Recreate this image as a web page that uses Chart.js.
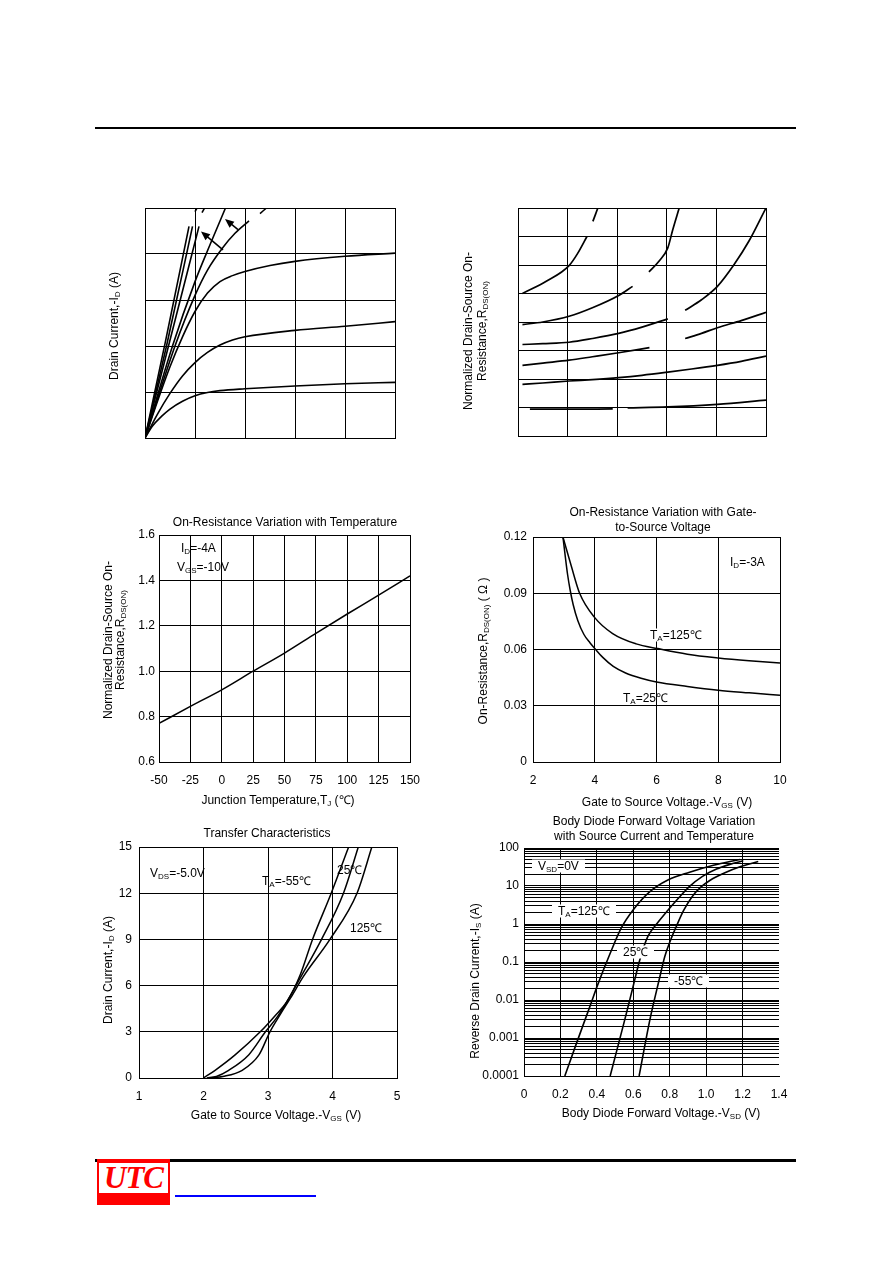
<!DOCTYPE html>
<html><head><meta charset="utf-8"><title>MOSFET typical characteristics</title>
<script src="https://cdn.jsdelivr.net/npm/chart.js@4.4.1/dist/chart.umd.min.js"></script>
<style>
html,body{margin:0;padding:0;background:#fff;}
body{position:relative;width:892px;height:1263px;overflow:hidden;font-family:"Liberation Sans",Arial,Helvetica,sans-serif;font-size:12px;color:#000;}
canvas{position:absolute;}
.t{position:absolute;white-space:nowrap;line-height:14px;font-size:12px;color:#000;}
.c{transform:translate(-50%,-50%);text-align:center;}
.l{transform:translateY(-50%);}
.r{transform:translate(-50%,-50%) rotate(-90deg);text-align:center;}
.t sub{font-size:8px;vertical-align:-2px;line-height:0;}
.wb{background:#fff;padding:0 6px;line-height:13px;}
.rule{position:absolute;background:#000;}
</style></head><body>
<div class="rule" style="left:95px;top:127px;width:701px;height:2px"></div>
<div class="rule" style="left:95px;top:1159px;width:701px;height:3px"></div>
<div style="position:absolute;left:97px;top:1159px;width:73px;height:46px;background:#f00"></div>
<div style="position:absolute;left:99px;top:1163px;width:69px;height:30px;background:#fff"></div>
<div style="position:absolute;left:99px;top:1161px;width:69px;height:34px;font:italic bold 31px 'Liberation Serif',serif;color:#f00;line-height:34px;text-align:center;letter-spacing:-1px">UTC</div>
<div style="position:absolute;left:175px;top:1195px;width:141px;height:2px;background:#00f"></div>

<!-- chart 1 -->
<div class="t r" style="left:114px;top:326px">Drain Current,-I<sub>D</sub> (A)</div>
<!-- chart 2 -->
<div class="t r" style="left:475px;top:331px;line-height:14px">Normalized Drain-Source On-<br>Resistance,R<sub>DS(ON)</sub></div>
<!-- chart 3 -->
<div class="t c" style="left:285px;top:522px">On-Resistance Variation with Temperature</div>
<div class="t r" style="left:114px;top:640px;line-height:12px">Normalized Drain-Source On-<br>Resistance,R<sub>DS(ON)</sub></div>
<div class="t c" style="left:278px;top:800px">Junction Temperature,T<sub>J</sub> (℃)</div>
<div class="t l" style="left:181px;top:548px">I<sub>D</sub>=-4A</div>
<div class="t l" style="left:177px;top:567px">V<sub>GS</sub>=-10V</div>
<!-- chart 4 -->
<div class="t c" style="left:663px;top:520px;line-height:15px">On-Resistance Variation with Gate-<br>to-Source Voltage</div>
<div class="t r" style="left:483px;top:651px">On-Resistance,R<sub>DS(ON)</sub> ( Ω )</div>
<div class="t c" style="left:667px;top:802px">Gate to Source Voltage.-V<sub>GS</sub> (V)</div>
<div class="t l" style="left:730px;top:562px">I<sub>D</sub>=-3A</div>
<div class="t l wb" style="left:644px;top:635px">T<sub>A</sub>=125℃</div>
<div class="t l" style="left:623px;top:698px">T<sub>A</sub>=25℃</div>
<!-- chart 5 -->
<div class="t c" style="left:267px;top:833px">Transfer Characteristics</div>
<div class="t r" style="left:108px;top:970px">Drain Current,-I<sub>D</sub> (A)</div>
<div class="t c" style="left:276px;top:1115px">Gate to Source Voltage.-V<sub>GS</sub> (V)</div>
<div class="t l" style="left:150px;top:873px">V<sub>DS</sub>=-5.0V</div>
<div class="t l" style="left:262px;top:881px">T<sub>A</sub>=-55℃</div>
<div class="t l" style="left:337px;top:870px">25℃</div>
<div class="t l" style="left:350px;top:928px">125℃</div>
<!-- chart 6 -->
<div class="t c" style="left:654px;top:829px;line-height:15px">Body Diode Forward Voltage Variation<br>with Source Current and Temperature</div>
<div class="t r" style="left:475px;top:981px">Reverse Drain Current,-I<sub>S</sub> (A)</div>
<div class="t c" style="left:661px;top:1113px">Body Diode Forward Voltage.-V<sub>SD</sub> (V)</div>

<script>
// ---------------- DATA ----------------
// Chart 1: output characteristics (no tick labels), null splits a curve
const out1_vds = [0,0.15,0.33,0.5,0.75,1,1.25,1.5,2,3,4,5];
const out1_id  = [0,0.26,0.47,0.63,0.8,0.92,0.99,1.03,1.07,1.13,1.18,1.21];
const out2_vds = [0,0.25,0.5,0.75,1,1.25,1.5,1.75,2,3,4,5];
const out2_id  = [0,0.52,0.97,1.35,1.64,1.86,2.02,2.13,2.2,2.34,2.43,2.53];
const out3_vds = [0,0.25,0.5,0.75,1,1.25,1.5,1.75,2,2.5,3,4,5];
const out3_id  = [0,0.8,1.55,2.2,2.75,3.15,3.4,3.53,3.62,3.75,3.84,3.95,4.02];
const out4_vds = [0,0.6,1,1.25,1.55,1.8,2.08,null,2.3,2.43];
const out4_id  = [0,2.0,3.1,3.65,4.13,4.45,4.72,null,4.88,5];
const out5_vds = [0,0.55,1,1.3,1.61];
const out5_id  = [0,2.0,3.4,4.2,5];
const out6_vds = [0,0.47,1.08,null,1.14,1.19];
const out6_id  = [0,2.0,4.6,null,4.9,5];
const out7_vds = [0,0.43,0.95,null,1.0,1.04];
const out7_id  = [0,2.0,4.6,null,4.92,5];
const out8_vds = [0,0.4,0.88];
const out8_id  = [0,2.05,4.6];
const out_arrowTail = [[1.56,4.09],[1.86,4.53]];
const out_arrowHead = [[1.12,4.49],[1.60,4.76]];
const out_ticksX = [0,1,2,3,4,5];
const out_ticksY = [0,1,2,3,4,5];

// Chart 2: normalized RDS(on) curves (no tick labels)
const nr1_x = [0.09,0.57,1.03,1.2,1.39,null,1.51,1.61];
const nr1_y = [5.0,5.43,5.98,6.4,7.0,null,7.53,8];
const nr2_x = [0.09,0.5,1.03,1.5,2.03,2.31,null,2.64,2.85,3.02,3.12,3.25];
const nr2_y = [3.91,4.0,4.2,4.5,4.93,5.25,null,5.76,6.15,6.6,7.24,8];
const nr3_x = [0.09,0.5,1.03,1.5,2.03,2.5,3.02,null,3.37,3.7,4.02,4.35,4.66,5];
const nr3_y = [3.21,3.24,3.29,3.42,3.6,3.82,4.11,null,4.41,4.78,5.25,6.0,6.85,8];
const nr4_x = [0.09,0.5,1.03,1.5,2.03,2.65,null,3.37,3.7,4.02,4.5,5];
const nr4_y = [2.48,2.56,2.66,2.78,2.92,3.1,null,3.42,3.6,3.8,4.05,4.34];
const nr5_x = [0.09,0.5,1.03,1.5,2.03,2.5,3.02,3.5,4.02,4.5,5];
const nr5_y = [1.81,1.86,1.93,1.98,2.05,2.13,2.24,2.35,2.48,2.62,2.8];
const nr6_x = [0.24,1,1.91,null,2.21,3.02,4.02,5];
const nr6_y = [0.94,0.94,0.95,null,0.99,1.02,1.11,1.26];
const nr_ticksX = [0,1,2,3,4,5];
const nr_ticksY = [0,1,2,3,4,5,6,7,8];

// Chart 3: on-resistance vs temperature
const temp_tj = [-50,-25,0,25,50,75,100,125,150];
const temp_r  = [0.77,0.845,0.918,1.0,1.08,1.167,1.252,1.335,1.42];
const temp_ticksX = [-50,-25,0,25,50,75,100,125,150];
const temp_labelsX = ["-50","-25","0","25","50","75","100","125","150"];
const temp_ticksY = [0.6,0.8,1.0,1.2,1.4,1.6];
const temp_labelsY = ["0.6","0.8","1.0","1.2","1.4","1.6"];

// Chart 4: on-resistance vs gate voltage
const vgs_125_v = [2.97,3.24,3.51,4.0,4.58,5.34,6.04,7,8,9,10];
const vgs_125_r = [0.12,0.1045,0.09,0.077,0.0685,0.063,0.0605,0.0575,0.0555,0.054,0.0528];
const vgs_25_v  = [2.97,3.05,3.12,3.2,3.3,3.45,3.65,3.85,4.03,4.26,4.6,5,5.5,6,7,8,9,10];
const vgs_25_r  = [0.12,0.109,0.1,0.092,0.084,0.0755,0.068,0.0635,0.06,0.0558,0.051,0.0475,0.0447,0.0427,0.0403,0.0383,0.0369,0.0356];
const vgs_ticksX = [2,4,6,8,10];
const vgs_labelsX = ["2","4","6","8","10"];
const vgs_ticksY = [0,0.03,0.06,0.09,0.12];
const vgs_labelsY = ["0","0.03","0.06","0.09","0.12"];

// Chart 5: transfer characteristics
const tr_m55_v = [2.0,2.18,2.49,2.88,3.1,3.3,3.5,3.69,3.98,4.25];
const tr_m55_i = [0,0.5,1.5,3,4.0,5.0,6.7,9,12,15];
const tr_25_v  = [2.05,2.2,2.39,2.7,2.96,3.15,3.3,3.5,3.83,4.17,4.4];
const tr_25_i  = [0,0.1,0.5,1.5,3,4.0,5.0,6.5,9,12,15];
const tr_125_v = [2.1,2.3,2.6,2.86,3.03,3.2,3.35,3.55,3.96,4.38,4.61];
const tr_125_i = [0,0.1,0.5,1.5,3,4.2,5.2,6.6,9,12,15];
const tr_ticksX = [1,2,3,4,5];
const tr_labelsX = ["1","2","3","4","5"];
const tr_ticksY = [0,3,6,9,12,15];
const tr_labelsY = ["0","3","6","9","12","15"];

// Chart 6: body diode forward voltage
const bd_125_v = [0.224,0.286,0.361,0.407,0.471,0.535,0.599,0.691,0.79,0.909,1.04,1.186];
const bd_125_i = [1e-4,6.8e-4,6.6e-3,0.027,0.16,0.8,2.34,7.1,14.4,23,35,50];
const bd_25_v  = [0.473,0.553,0.599,0.636,0.68,0.728,0.79,0.85,0.909,0.98,1.057,1.13,1.204];
const bd_25_i  = [1e-4,3e-3,0.0227,0.115,0.47,1.0,2.3,4.9,9.8,18,28,37,46];
const bd_m55_v = [0.632,0.691,0.742,0.773,0.805,0.838,0.875,0.92,0.97,1.02,1.1,1.186,1.286];
const bd_m55_i = [1e-4,3e-3,0.034,0.14,0.38,0.9,2.2,5,9.3,14,22,32,44];
const bd_ticksX = [0,0.2,0.4,0.6,0.8,1.0,1.2,1.4];
const bd_labelsX = ["0","0.2","0.4","0.6","0.8","1.0","1.2","1.4"];
const bd_decades = [1e-4,1e-3,1e-2,1e-1,1,10,100];
const bd_labelsY = ["0.0001","0.001","0.01","0.1","1","10","100"];

// ---------------- BUILD ----------------
Chart.defaults.font.family = '"Liberation Sans", Arial, Helvetica, sans-serif';
Chart.defaults.font.size = 12;
Chart.defaults.color = '#000';
const ML = 60, MT = 15, MR = 25, MB = 35;

function segs(xs, ys, w) {
  const out = []; let cur = [];
  xs.forEach((x, i) => {
    if (x === null) { if (cur.length) out.push(cur); cur = []; }
    else cur.push({x: x, y: ys[i]});
  });
  if (cur.length) out.push(cur);
  return out.map(d => ({data: d, borderColor: '#000', borderWidth: w || 1.5, pointRadius: 0,
    fill: false, cubicInterpolationMode: 'monotone'}));
}

function ax(pos, min, max, vals, labels, pad, opts) {
  opts = opts || {};
  return {
    type: opts.type || 'linear', position: pos, min: min, max: max,
    afterBuildTicks: s => { s.ticks = vals.map(v => ({value: v})); },
    afterFit: s => {
      if (pos === 'left') { s.width = ML; s.paddingTop = 0; s.paddingBottom = 0; }
      else { s.height = MB; s.paddingLeft = 0; s.paddingRight = 0; }
    },
    ticks: {display: !!labels, autoSkip: false, maxRotation: 0, minRotation: 0, padding: pad || 0,
      color: '#000', font: {size: 12},
      callback: (v, i) => labels ? (labels[i] !== undefined ? labels[i] : '') : ''},
    grid: {color: opts.gridColor || '#000', lineWidth: 1, drawTicks: false},
    border: {display: true, color: '#000', width: 1}
  };
}

function mk(box, xs, ys, datasets, plugins) {
  const cv = document.createElement('canvas');
  cv.width = box.w + ML + MR; cv.height = box.h + MT + MB;
  cv.style.left = (box.l - ML) + 'px'; cv.style.top = (box.t - MT) + 'px';
  cv.style.width = cv.width + 'px'; cv.style.height = cv.height + 'px';
  document.body.insertBefore(cv, document.body.firstChild);
  return new Chart(cv, {type: 'line', data: {datasets: datasets}, options: {
    responsive: false, animation: false, events: [],
    layout: {padding: {left: 0, top: MT, right: MR, bottom: 0}},
    plugins: {legend: {display: false}, tooltip: {enabled: false}, title: {display: false}},
    scales: {x: xs, y: ys}
  }, plugins: plugins || []});
}

const arrowPlugin = {
  id: 'arrows',
  afterDatasetsDraw(chart) {
    const c = chart.ctx, sx = chart.scales.x, sy = chart.scales.y;
    c.save(); c.strokeStyle = '#000'; c.fillStyle = '#000'; c.lineWidth = 1.5;
    out_arrowTail.forEach((t, i) => {
      const x0 = sx.getPixelForValue(t[0]), y0 = sy.getPixelForValue(t[1]);
      const x1 = sx.getPixelForValue(out_arrowHead[i][0]), y1 = sy.getPixelForValue(out_arrowHead[i][1]);
      const a = Math.atan2(y1 - y0, x1 - x0), L = 9, W = 3.8;
      c.beginPath(); c.moveTo(x0, y0); c.lineTo(x1 - L * 0.6 * Math.cos(a), y1 - L * 0.6 * Math.sin(a)); c.stroke();
      c.beginPath(); c.moveTo(x1, y1);
      c.lineTo(x1 - L * Math.cos(a) + W * Math.sin(a), y1 - L * Math.sin(a) - W * Math.cos(a));
      c.lineTo(x1 - L * Math.cos(a) - W * Math.sin(a), y1 - L * Math.sin(a) + W * Math.cos(a));
      c.closePath(); c.fill();
    });
    c.restore();
  }
};

// Chart 1
mk({l: 145, t: 208, w: 250, h: 230},
  ax('bottom', 0, 5, out_ticksX, null), ax('left', 0, 5, out_ticksY, null),
  [].concat(segs(out1_vds, out1_id, 1.6), segs(out2_vds, out2_id, 1.6), segs(out3_vds, out3_id, 1.6),
    segs(out4_vds, out4_id, 1.6), segs(out5_vds, out5_id, 1.6), segs(out6_vds, out6_id, 1.6),
    segs(out7_vds, out7_id, 1.6), segs(out8_vds, out8_id, 1.6)),
  [arrowPlugin]);

// Chart 2
mk({l: 518, t: 208, w: 248, h: 228},
  ax('bottom', 0, 5, nr_ticksX, null), ax('left', 0, 8, nr_ticksY, null),
  [].concat(segs(nr1_x, nr1_y, 1.7), segs(nr2_x, nr2_y, 1.7), segs(nr3_x, nr3_y, 1.7),
    segs(nr4_x, nr4_y, 1.7), segs(nr5_x, nr5_y, 1.7), segs(nr6_x, nr6_y, 1.7)));

// Chart 3
mk({l: 159, t: 535, w: 251, h: 227},
  ax('bottom', -50, 150, temp_ticksX, temp_labelsX, 11), ax('left', 0.6, 1.6, temp_ticksY, temp_labelsY, 4),
  segs(temp_tj, temp_r, 1.5));

// Chart 4
mk({l: 533, t: 537, w: 247, h: 225},
  ax('bottom', 2, 10, vgs_ticksX, vgs_labelsX, 11), ax('left', 0, 0.12, vgs_ticksY, vgs_labelsY, 6),
  [].concat(segs(vgs_125_v, vgs_125_r, 1.5), segs(vgs_25_v, vgs_25_r, 1.5)));

// Chart 5
mk({l: 139, t: 847, w: 258, h: 231},
  ax('bottom', 1, 5, tr_ticksX, tr_labelsX, 11), ax('left', 0, 15, tr_ticksY, tr_labelsY, 7),
  [].concat(segs(tr_m55_v, tr_m55_i, 1.5), segs(tr_25_v, tr_25_i, 1.5), segs(tr_125_v, tr_125_i, 1.5)));

// Chart 6 (log)
const bdTickVals = [], bdTickLabs = [];
bd_decades.forEach((d, k) => {
  if (k === bd_decades.length - 1) { bdTickVals.push(d); bdTickLabs.push(bd_labelsY[k]); return; }
  for (let m = 1; m <= 9; m++) { bdTickVals.push(m * d); bdTickLabs.push(m === 1 ? bd_labelsY[k] : ''); }
});
mk({l: 524, t: 848, w: 255, h: 228},
  ax('bottom', 0, 1.4, bd_ticksX, bd_labelsX, 11,
    {gridColor: ctx => (ctx.tick && ctx.tick.value > 1.39) ? 'rgba(0,0,0,0)' : '#000'}),
  ax('left', 1e-4, 100, bdTickVals, bdTickLabs, 5, {type: 'logarithmic'}),
  [].concat(segs(bd_125_v, bd_125_i, 1.6), segs(bd_25_v, bd_25_i, 1.6), segs(bd_m55_v, bd_m55_i, 1.6)));
</script>
<div class="t l wb" style="left:532px;top:866px">V<sub>SD</sub>=0V</div>
<div class="t l wb" style="left:552px;top:911px">T<sub>A</sub>=125℃</div>
<div class="t l wb" style="left:617px;top:952px">25℃</div>
<div class="t l wb" style="left:668px;top:981px">-55℃</div>
</body></html>
